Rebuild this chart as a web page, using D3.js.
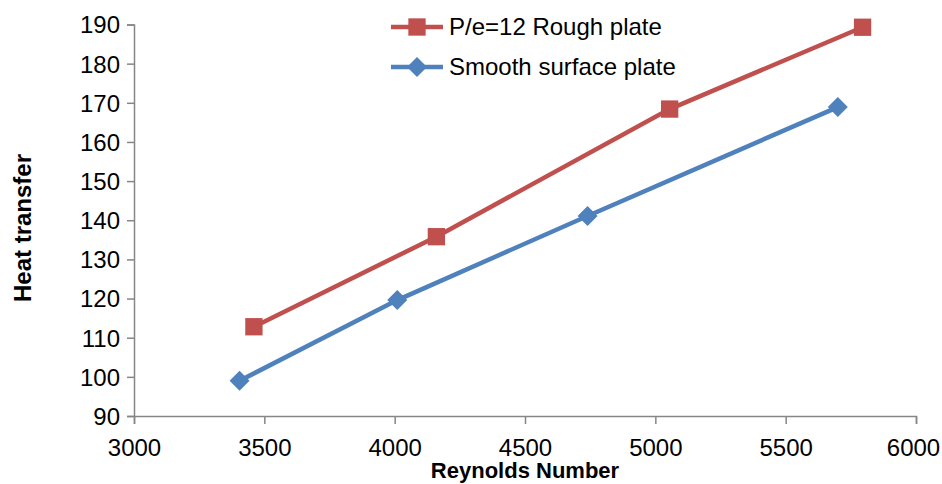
<!DOCTYPE html>
<html><head><meta charset="utf-8">
<script src="https://cdn.jsdelivr.net/npm/d3@7/dist/d3.min.js"></script>
<style>body{margin:0;background:#fff}</style>
</head><body>
<svg id="c" width="942" height="484"></svg>
<script>
const roughX = [3460, 4160, 5055, 5795];
const roughY = [112.8, 135.8, 168.4, 189.3];
const smoothX = [3405, 4010, 4740, 5700];
const smoothY = [99.0, 119.6, 141.1, 168.9];
const xTicks = [3000, 3500, 4000, 4500, 5000, 5500, 6000];
const yTicks = [90, 100, 110, 120, 130, 140, 150, 160, 170, 180, 190];
const seriesNames = ["P/e=12 Rough plate", "Smooth surface plate"];

const svg = d3.select("#c");
const x = d3.scaleLinear().domain([3000, 6000]).range([134, 916]);
const y = d3.scaleLinear().domain([90, 190]).range([416, 24.5]);
const font = "'Liberation Sans', Arial, sans-serif";
const axisColor = "#868686";

const xa = svg.append("g").attr("transform", "translate(0,416)")
  .call(d3.axisBottom(x).tickValues(xTicks).tickSize(8).tickFormat(d3.format("d")));
const ya = svg.append("g").attr("transform", "translate(134,0)")
  .call(d3.axisLeft(y).tickValues(yTicks).tickSize(7).tickFormat(d3.format("d")));
[xa, ya].forEach(a => {
  a.select(".domain").attr("stroke", axisColor).attr("stroke-width", 1.5);
  a.selectAll(".tick line").attr("stroke", axisColor).attr("stroke-width", 1.5);
  a.selectAll("text").attr("font-family", font).attr("font-size", 24).attr("fill", "#000");
});
xa.selectAll("text").attr("dy", 0).attr("y", 40);
xa.selectAll(".tick:last-of-type text").attr("dx", -3);
ya.selectAll("text").attr("x", -14).attr("dy", "0.35em");

const red = "#C0504D", blue = "#4F81BD";
const line = d3.line().x(d => x(d[0])).y(d => y(d[1]));
const rough = roughX.map((v, i) => [v, roughY[i]]);
const smooth = smoothX.map((v, i) => [v, smoothY[i]]);

svg.append("path").datum(rough).attr("d", line).attr("fill", "none").attr("stroke", red).attr("stroke-width", 4.5);
svg.append("path").datum(smooth).attr("d", line).attr("fill", "none").attr("stroke", blue).attr("stroke-width", 4.5);

const sq = d3.symbol().type(d3.symbolSquare).size(300);
const di = d3.symbol().type(d3.symbolSquare).size(200);
svg.selectAll(".rm").data(rough).enter().append("path").attr("d", sq)
  .attr("transform", d => `translate(${x(d[0])},${y(d[1])})`).attr("fill", red);
svg.selectAll(".sm").data(smooth).enter().append("path").attr("d", di)
  .attr("transform", d => `translate(${x(d[0])},${y(d[1])}) rotate(45)`).attr("fill", blue);

// legend
const leg = [{c: red, s: sq, y: 27, r: 0}, {c: blue, s: di, y: 67, r: 45}];
leg.forEach((l, i) => {
  svg.append("line").attr("x1", 391).attr("x2", 443).attr("y1", l.y).attr("y2", l.y)
    .attr("stroke", l.c).attr("stroke-width", 4.5);
  svg.append("path").attr("d", l.s).attr("transform", `translate(417,${l.y}) rotate(${l.r})`).attr("fill", l.c);
  svg.append("text").attr("x", 449).attr("y", l.y).attr("dy", "0.35em")
    .attr("font-family", font).attr("font-size", 24).text(seriesNames[i]);
});

svg.append("text").attr("transform", "translate(31,228) rotate(-90)").attr("text-anchor", "middle")
  .attr("font-family", font).attr("font-weight", "bold").attr("font-size", 24).text("Heat transfer");
svg.append("text").attr("x", 525).attr("y", 478).attr("text-anchor", "middle")
  .attr("font-family", font).attr("font-weight", "bold").attr("font-size", 22).text("Reynolds Number");
</script>
</body></html>
